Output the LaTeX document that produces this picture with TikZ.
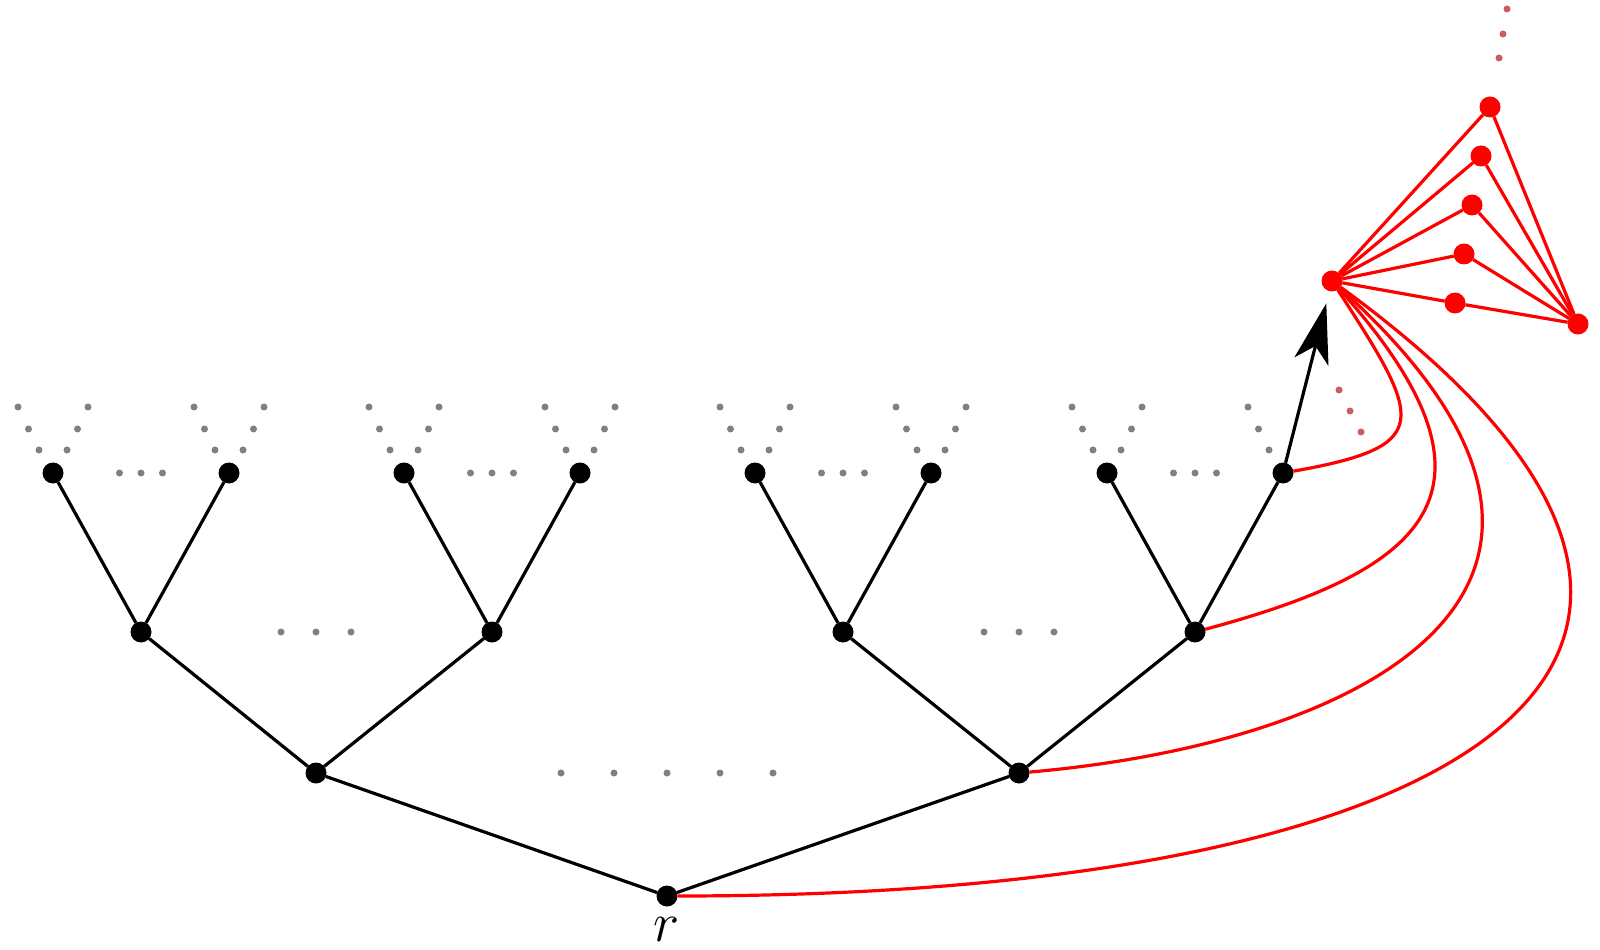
\documentclass[tikz,border=0pt]{standalone}
\usetikzlibrary{arrows.meta}
\definecolor{dotred}{RGB}{205,92,92}
\begin{document}
\begin{tikzpicture}[x=0.5pt,y=0.5pt,
  vtx/.style={circle,fill=black,inner sep=0pt,outer sep=0pt,minimum size=10.5pt},
  rvtx/.style={circle,fill=red,inner sep=0pt,outer sep=0pt,minimum size=10.5pt},
  edge/.style={line width=1.6pt,black},
  redge/.style={line width=1.6pt,red},
  gdot/.style={fill=gray},
  rdot/.style={fill=dotred}]
\useasboundingbox (0,0) rectangle (1600,949);
% tree nodes
\node[vtx] (r) at (667,53) {};
\node[vtx] (a1) at (316,176) {};
\node[vtx] (a2) at (1019,176) {};
\node[vtx] (b1) at (141,317) {};
\node[vtx] (b2) at (492,317) {};
\node[vtx] (b3) at (843,317) {};
\node[vtx] (b4) at (1195,317) {};
\node[vtx] (c1) at (53,476) {};
\node[vtx] (c2) at (229,476) {};
\node[vtx] (c3) at (404,476) {};
\node[vtx] (c4) at (580,476) {};
\node[vtx] (c5) at (755,476) {};
\node[vtx] (c6) at (931,476) {};
\node[vtx] (c7) at (1107,476) {};
\node[vtx] (c8) at (1283,476) {};
\node[inner sep=0pt,scale=1.12] (rlab) at (667,20) {\fontsize{24.88pt}{30pt}\selectfont $r$};
% red cluster
\node[rvtx] (H) at (1332,668) {};
\node[rvtx] (R1) at (1490,842) {};
\node[rvtx] (R2) at (1481,793) {};
\node[rvtx] (R3) at (1472,744) {};
\node[rvtx] (R4) at (1464,695) {};
\node[rvtx] (R5) at (1455,646) {};
\node[rvtx] (RR) at (1578,625) {};
% tree edges
\draw[edge] (r) -- (a1);
\draw[edge] (r) -- (a2);
\draw[edge] (a1) -- (b1);
\draw[edge] (a1) -- (b2);
\draw[edge] (a2) -- (b3);
\draw[edge] (a2) -- (b4);
\draw[edge] (b1) -- (c1);
\draw[edge] (b1) -- (c2);
\draw[edge] (b2) -- (c3);
\draw[edge] (b2) -- (c4);
\draw[edge] (b3) -- (c5);
\draw[edge] (b3) -- (c6);
\draw[edge] (b4) -- (c7);
\draw[edge] (b4) -- (c8);
% arrow
\draw[edge,-{Stealth[length=30pt,width=17.5pt,inset=8pt]},shorten >=6.3pt] (c8) -- (H);
% red fan
\foreach \k in {R1,R2,R3,R4,R5}{
  \draw[redge] (H) -- (\k);
  \draw[redge] (\k) -- (RR);
}
% red curves
\draw[redge] (c8) to[out=10,in=-57,out distance=72pt,in distance=78pt] (H);
\draw[redge] (b4) to[out=15,in=-48,out distance=112pt,in distance=138pt] (H);
\draw[redge] (a2) to[out=5,in=-42,out distance=170pt,in distance=222pt] (H);
\draw[redge] (r) to[out=0,in=-36,out distance=410pt,in distance=305pt] (H);
% gray dots between siblings
\foreach \x in {141,492,843,1195}{
  \foreach \d in {-21.5,0,21.5} \fill[gdot] (\x+\d,476) circle (1.75pt);
}
\foreach \x in {316,1019}{
  \foreach \d in {-35,0,35} \fill[gdot] (\x+\d,317) circle (1.75pt);
}
\foreach \d in {-106,-53,0,53,106} \fill[gdot] (667+\d,176) circle (1.75pt);
% gray dots above leaves
\foreach \x in {53,229,404,580,755,931,1107,1283}{
  \fill[gdot] (\x-14,499) circle (1.75pt);
  \fill[gdot] (\x-24.5,520) circle (1.75pt);
  \fill[gdot] (\x-35,542) circle (1.75pt);
}
\foreach \x in {53,229,404,580,755,931,1107}{
  \fill[gdot] (\x+14,499) circle (1.75pt);
  \fill[gdot] (\x+24.5,520) circle (1.75pt);
  \fill[gdot] (\x+35,542) circle (1.75pt);
}
% red dots
\fill[rdot] (1339,559) circle (1.75pt);
\fill[rdot] (1350,538) circle (1.75pt);
\fill[rdot] (1361,517) circle (1.75pt);
\fill[rdot] (1499,891) circle (1.75pt);
\fill[rdot] (1503,915) circle (1.75pt);
\fill[rdot] (1507,940) circle (1.75pt);
\end{tikzpicture}
\end{document}
